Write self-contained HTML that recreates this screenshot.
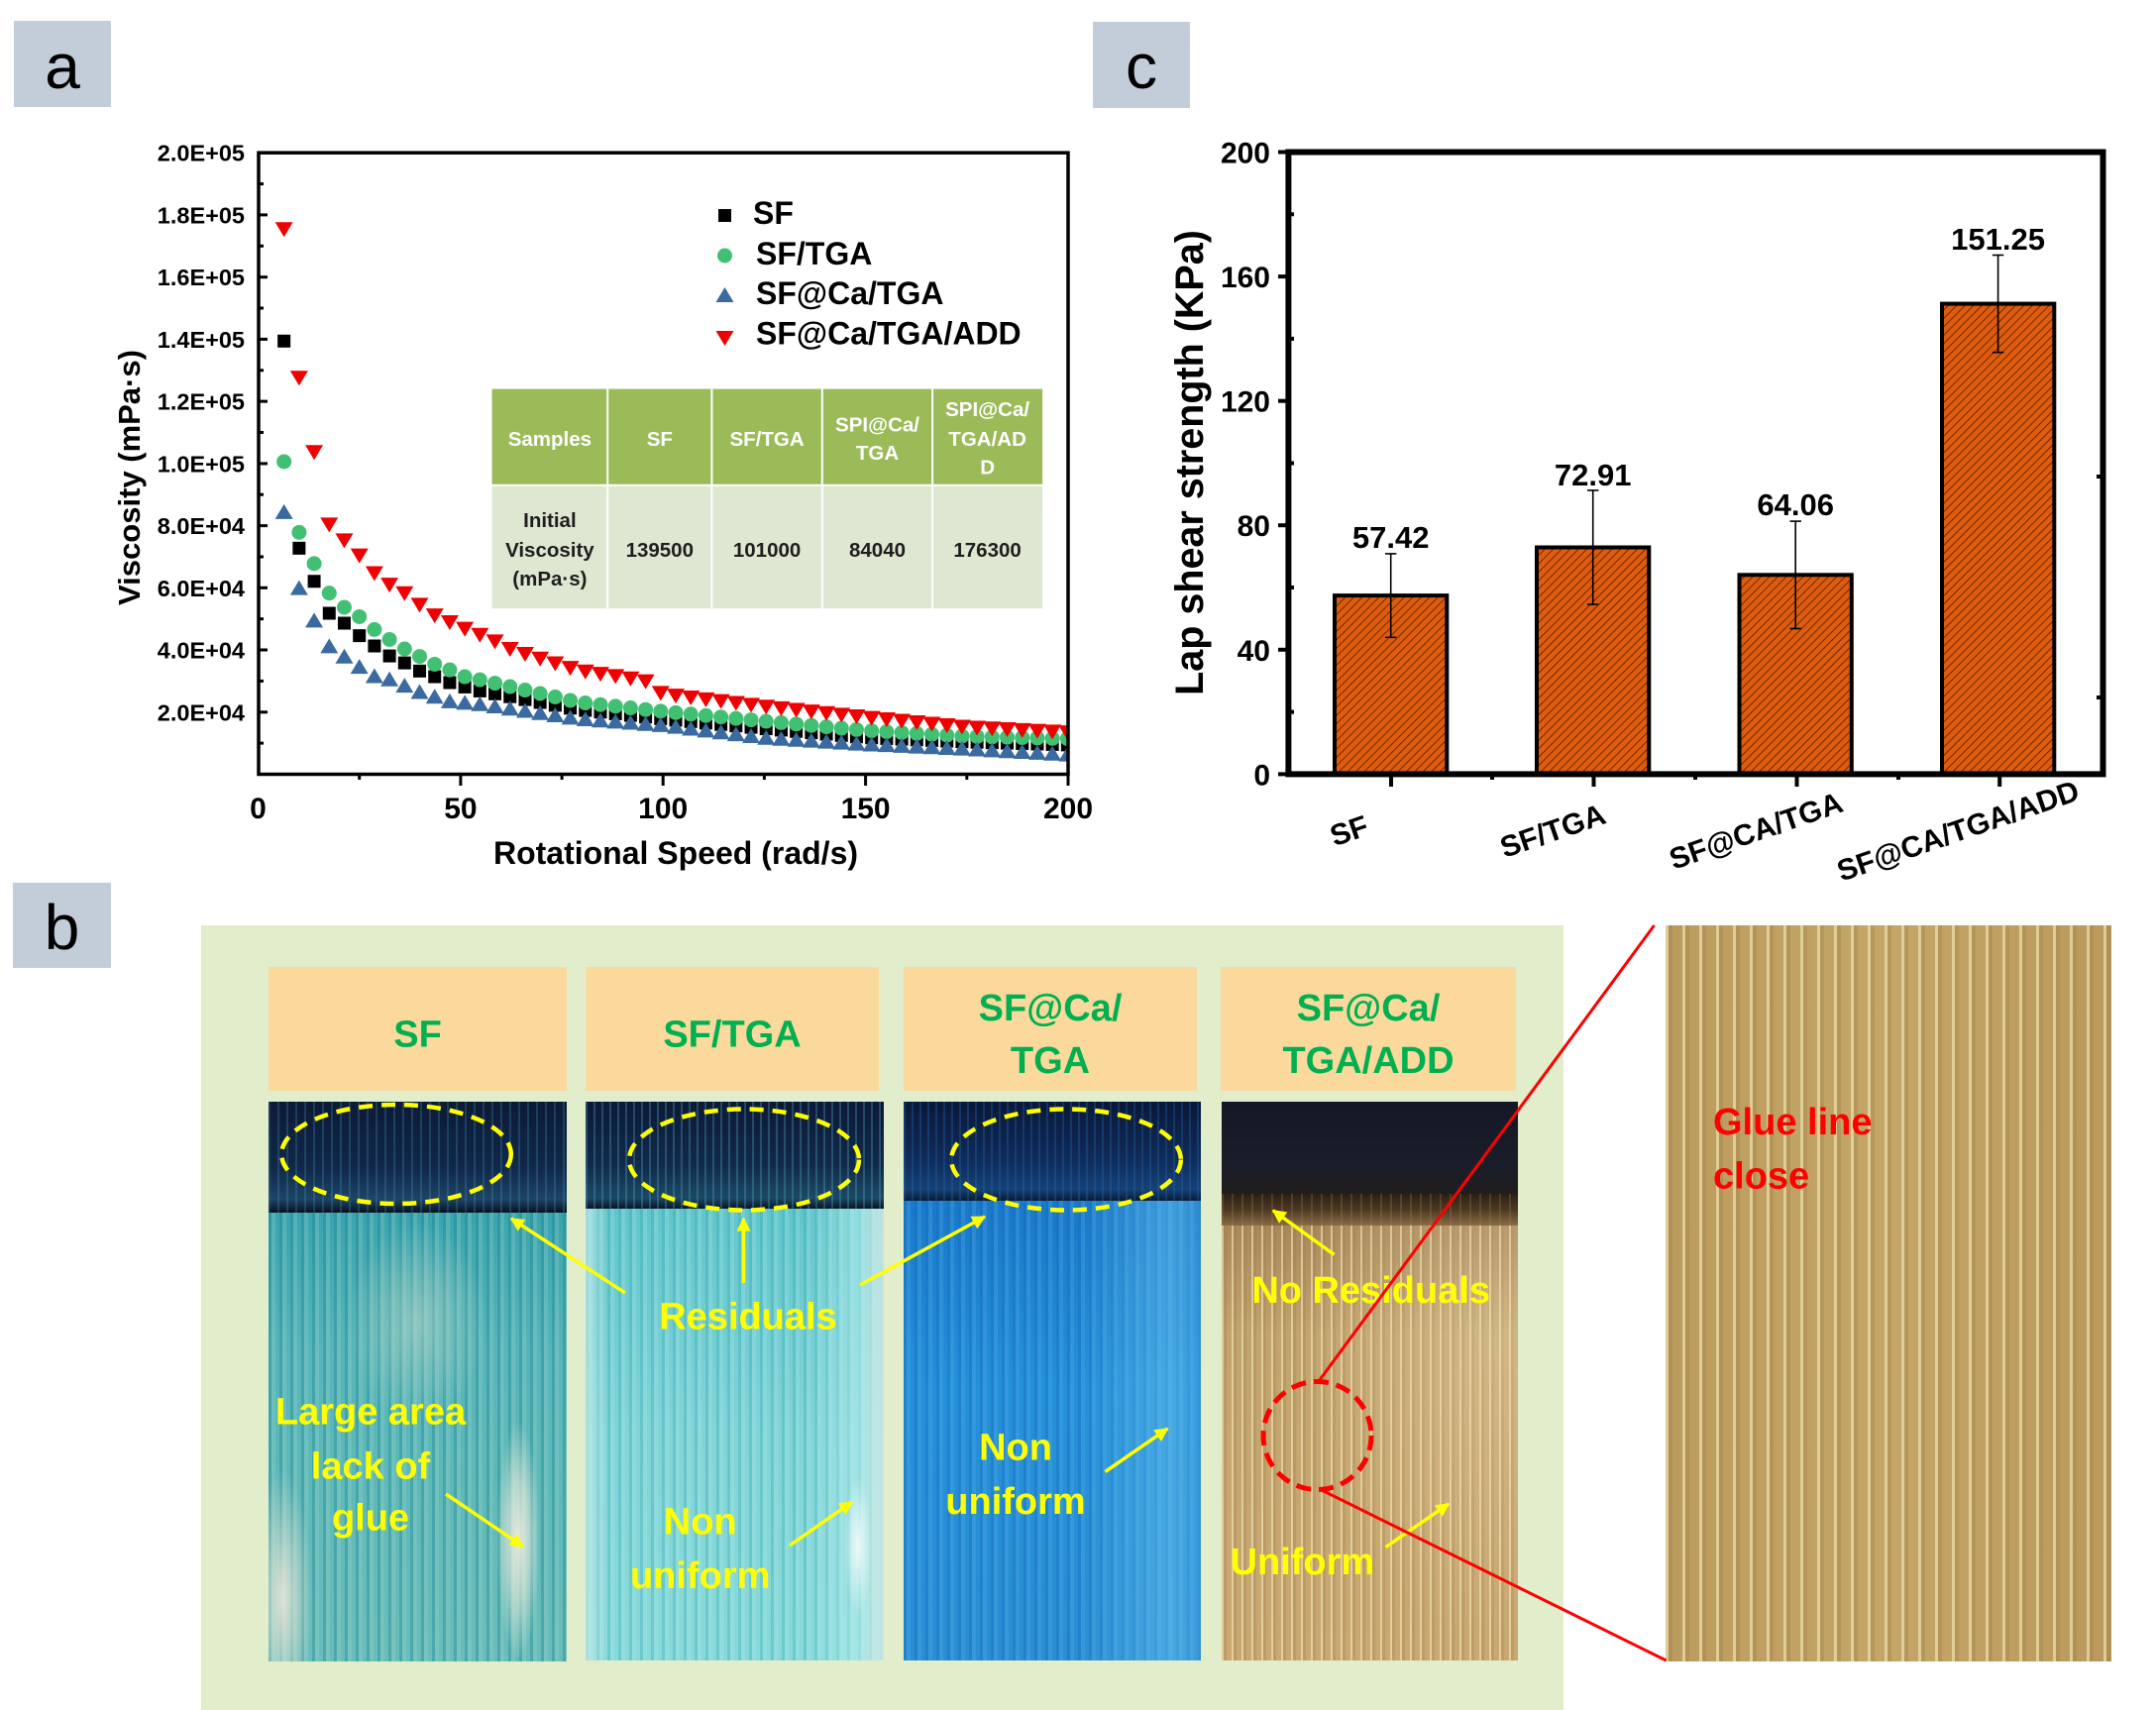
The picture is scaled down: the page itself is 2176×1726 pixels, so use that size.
<!DOCTYPE html>
<html><head><meta charset="utf-8">
<style>
html,body{margin:0;padding:0;width:2176px;height:1726px;overflow:hidden;background:#fff}
.a{position:absolute}
svg{position:absolute;left:0;top:0}
</style></head><body>
<div class="a" style="left:203px;top:934px;width:1375px;height:792px;background:#E2EDCB"></div>
<div class="a" style="left:271px;top:976px;width:301px;height:125px;background:#FBD99D"></div>
<div class="a" style="left:591px;top:976px;width:296px;height:125px;background:#FBD99D"></div>
<div class="a" style="left:912px;top:976px;width:296px;height:125px;background:#FBD99D"></div>
<div class="a" style="left:1232px;top:976px;width:298px;height:125px;background:#FBD99D"></div>

<div class="a" style="left:271px;top:1112px;width:301px;height:112px;background:repeating-linear-gradient(90deg,rgba(80,160,190,.25) 0 2px,rgba(0,0,0,0) 2px 9px),linear-gradient(180deg,#0c1a36 0%,#10284a 60%,#1d4466 88%,#08111f 100%)"></div>
<div class="a" style="left:271px;top:1224px;width:301px;height:453px;background:radial-gradient(ellipse 22px 120px at 252px 330px,rgba(235,235,220,.95) 0%,rgba(235,235,220,.6) 50%,rgba(235,235,220,0) 100%),radial-gradient(ellipse 30px 130px at 14px 390px,rgba(230,228,212,.95) 0%,rgba(230,228,212,0) 100%),radial-gradient(ellipse 70px 100px at 150px 110px,rgba(190,215,200,.55),rgba(190,215,200,0)),repeating-linear-gradient(90deg,rgba(20,130,145,.35) 0 3px,rgba(160,215,205,.25) 3px 7px,rgba(0,0,0,0) 7px 11px),linear-gradient(180deg,#3aa3ae 0%,#57b5b8 30%,#6abdb9 100%)"></div>

<div class="a" style="left:591px;top:1112px;width:301px;height:108px;background:repeating-linear-gradient(90deg,rgba(90,180,200,.3) 0 2px,rgba(0,0,0,0) 2px 8px),linear-gradient(180deg,#0c1936 0%,#112a4c 60%,#1c4a66 90%,#0a1424 100%)"></div>
<div class="a" style="left:591px;top:1220px;width:301px;height:456px;background:radial-gradient(ellipse 14px 70px at 275px 340px,rgba(245,250,250,.95),rgba(245,250,250,0)),linear-gradient(90deg,rgba(200,235,235,.7) 0%,rgba(200,235,235,0) 8%,rgba(0,0,0,0) 75%,rgba(190,240,240,.55) 92%,rgba(220,235,230,.8) 100%),repeating-linear-gradient(90deg,rgba(40,165,175,.3) 0 3px,rgba(170,235,235,.25) 3px 7px,rgba(0,0,0,0) 7px 11px),linear-gradient(180deg,#62c5ca 0%,#82d4d7 50%,#8ad9d9 100%)"></div>

<div class="a" style="left:912px;top:1112px;width:300px;height:100px;background:repeating-linear-gradient(90deg,rgba(40,110,180,.3) 0 2px,rgba(0,0,0,0) 2px 8px),linear-gradient(180deg,#0a1838 0%,#0f2c5a 60%,#154276 88%,#0a1a33 100%)"></div>
<div class="a" style="left:912px;top:1212px;width:300px;height:464px;background:linear-gradient(90deg,rgba(0,0,0,0) 60%,rgba(110,200,240,.45) 90%,rgba(90,180,230,.3) 100%),repeating-linear-gradient(90deg,rgba(20,100,190,.3) 0 3px,rgba(90,180,235,.25) 3px 7px,rgba(0,0,0,0) 7px 11px),linear-gradient(180deg,#1a78c8 0%,#2490d8 40%,#2a8ed2 100%)"></div>

<div class="a" style="left:1233px;top:1112px;width:299px;height:93px;background:linear-gradient(180deg,#141725 0%,#1a1d2a 70%,#201d1c 100%)"></div>
<div class="a" style="left:1233px;top:1205px;width:299px;height:32px;background:repeating-linear-gradient(90deg,rgba(150,120,80,.3) 0 2px,rgba(0,0,0,0) 2px 10px),linear-gradient(180deg,#2a2015 0%,#4c3822 50%,#8a6c45 100%)"></div>
<div class="a" style="left:1233px;top:1237px;width:299px;height:439px;background:radial-gradient(ellipse 200px 300px at 280px 120px,rgba(240,220,180,.35),rgba(240,220,180,0)),repeating-linear-gradient(90deg,rgba(245,230,185,.6) 0 2px,rgba(150,120,70,.25) 2px 5px,rgba(0,0,0,0) 5px 10px),linear-gradient(180deg,#a8885a 0%,#c2a46e 25%,#c9a971 100%)"></div>

<div class="a" style="left:1681px;top:934px;width:450px;height:743px;background:repeating-linear-gradient(90deg,rgba(235,220,168,.75) 0 3px,rgba(150,120,65,.3) 3px 7px,rgba(0,0,0,0) 7px 17px),linear-gradient(90deg,#bb9c5e 0%,#c4a668 50%,#ba9a5c 100%)"></div>

<svg width="2176" height="1726" viewBox="0 0 2176 1726" font-family="'Liberation Sans', Arial, sans-serif">
<defs>
<pattern id="hatch" patternUnits="userSpaceOnUse" width="6" height="6" patternTransform="rotate(45)">
<rect width="6" height="6" fill="#DF5C0E"/>
<line x1="0" y1="0" x2="0" y2="6" stroke="#4a1800" stroke-width="1.5"/>
</pattern>
<clipPath id="clipA"><rect x="261" y="154" width="817" height="628"/></clipPath>
<marker id="ay" viewBox="0 0 10 10" refX="9" refY="5" markerWidth="17" markerHeight="14" markerUnits="userSpaceOnUse" orient="auto"><path d="M0,0L10,5L0,10z" fill="#ff0"/></marker>
</defs>

<!-- panel labels -->
<rect x="14" y="21" width="98" height="87" fill="#C3CDD9"/>
<text x="63" y="89" font-size="64" text-anchor="middle">a</text>
<rect x="1103" y="22" width="98" height="87" fill="#C3CDD9"/>
<text x="1152" y="89" font-size="64" text-anchor="middle">c</text>
<rect x="13" y="891" width="99" height="86" fill="#C3CDD9"/>
<text x="62.5" y="958" font-size="64" text-anchor="middle">b</text>

<!-- ===== Panel a ===== -->
<g font-weight="bold">
<g stroke="#000" stroke-width="3">
<line x1="261" y1="216.9" x2="270" y2="216.9"/><line x1="261" y1="279.7" x2="270" y2="279.7"/>
<line x1="261" y1="342.4" x2="270" y2="342.4"/><line x1="261" y1="405.1" x2="270" y2="405.1"/>
<line x1="261" y1="467.9" x2="270" y2="467.9"/><line x1="261" y1="530.6" x2="270" y2="530.6"/>
<line x1="261" y1="593.3" x2="270" y2="593.3"/><line x1="261" y1="656" x2="270" y2="656"/>
<line x1="261" y1="718.8" x2="270" y2="718.8"/>
<line x1="261" y1="185.6" x2="266" y2="185.6"/><line x1="261" y1="248.3" x2="266" y2="248.3"/>
<line x1="261" y1="311" x2="266" y2="311"/><line x1="261" y1="373.8" x2="266" y2="373.8"/>
<line x1="261" y1="436.5" x2="266" y2="436.5"/><line x1="261" y1="499.2" x2="266" y2="499.2"/>
<line x1="261" y1="562" x2="266" y2="562"/><line x1="261" y1="624.7" x2="266" y2="624.7"/>
<line x1="261" y1="687.4" x2="266" y2="687.4"/><line x1="261" y1="750.1" x2="266" y2="750.1"/>
<line x1="464.9" y1="781.5" x2="464.9" y2="793"/><line x1="669.2" y1="781.5" x2="669.2" y2="793"/>
<line x1="873.6" y1="781.5" x2="873.6" y2="793"/><line x1="1078" y1="781.5" x2="1078" y2="793"/>
<line x1="362.7" y1="781.5" x2="362.7" y2="787"/><line x1="567.1" y1="781.5" x2="567.1" y2="787"/>
<line x1="771.4" y1="781.5" x2="771.4" y2="787"/><line x1="975.8" y1="781.5" x2="975.8" y2="787"/>
</g>
<g font-size="23.5" text-anchor="end">
<text x="247" y="162.7">2.0E+05</text><text x="247" y="225.4">1.8E+05</text>
<text x="247" y="288.2">1.6E+05</text><text x="247" y="350.9">1.4E+05</text>
<text x="247" y="413.6">1.2E+05</text><text x="247" y="476.4">1.0E+05</text>
<text x="247" y="539.1">8.0E+04</text><text x="247" y="601.8">6.0E+04</text>
<text x="247" y="664.5">4.0E+04</text><text x="247" y="727.3">2.0E+04</text>
</g>
<g font-size="30" text-anchor="middle">
<text x="260.5" y="826">0</text><text x="464.9" y="826">50</text>
<text x="669.2" y="826">100</text><text x="873.6" y="826">150</text>
<text x="1078" y="826">200</text>
</g>
<text x="682" y="872" font-size="32" text-anchor="middle">Rotational Speed (rad/s)</text>
<text transform="translate(141,482) rotate(-90)" font-size="31" text-anchor="middle">Viscosity (mPa·s)</text>

<!-- legend -->
<rect x="725" y="211" width="13" height="13" fill="#000"/>
<circle cx="731.5" cy="258" r="7.5" fill="#41C073"/>
<polygon points="731.5,290 740.5,305 722.5,305" fill="#3A6AA0"/>
<polygon points="722.5,334 740.5,334 731.5,349" fill="#F00000"/>
<g font-size="32">
<text x="760" y="226">SF</text>
<text x="763" y="267">SF/TGA</text>
<text x="763" y="307">SF@Ca/TGA</text>
<text x="763" y="347.5">SF@Ca/TGA/ADD</text>
</g>
</g>

<!-- table -->
<rect x="496.5" y="392.6" width="555.6" height="97.2" fill="#9BBB59"/>
<rect x="496.5" y="489.8" width="555.6" height="124.4" fill="#DEE7D1"/>
<g stroke="#fff" stroke-width="2">
<line x1="496.5" y1="489.8" x2="1052.1" y2="489.8"/>
<line x1="613.2" y1="392.6" x2="613.2" y2="614.2"/>
<line x1="718.4" y1="392.6" x2="718.4" y2="614.2"/>
<line x1="829.8" y1="392.6" x2="829.8" y2="614.2"/>
<line x1="941.1" y1="392.6" x2="941.1" y2="614.2"/>
</g>
<g font-size="20.5" font-weight="bold" text-anchor="middle" fill="#fff">
<text x="554.9" y="450">Samples</text>
<text x="665.8" y="450">SF</text>
<text x="774.1" y="450">SF/TGA</text>
<text x="885.5" y="435.5">SPI@Ca/</text><text x="885.5" y="464.2">TGA</text>
<text x="996.6" y="420.2">SPI@Ca/</text><text x="996.6" y="450">TGA/AD</text><text x="996.6" y="478.7">D</text>
</g>
<g font-size="20.5" font-weight="bold" text-anchor="middle" fill="#1e1e1e">
<text x="554.9" y="532">Initial</text>
<text x="554.9" y="561.8">Viscosity</text>
<text x="554.9" y="591.2">(mPa·s)</text>
<text x="665.8" y="561.8">139500</text>
<text x="774.1" y="561.8">101000</text>
<text x="885.5" y="561.8">84040</text>
<text x="996.6" y="561.8">176300</text>
</g>

<g id="pts" clip-path="url(#clipA)"></g>
<rect x="261" y="154.2" width="817" height="627.3" fill="none" stroke="#000" stroke-width="3.5"/>

<!-- ===== Panel c ===== -->
<g stroke="#000" stroke-width="4">
<rect x="1347" y="601.1" width="113.3" height="180.3" fill="url(#hatch)"/>
<rect x="1551" y="552.5" width="113.3" height="228.9" fill="url(#hatch)"/>
<rect x="1755.5" y="580.3" width="113.3" height="201.1" fill="url(#hatch)"/>
<rect x="1960" y="306.6" width="113.3" height="474.8" fill="url(#hatch)"/>
</g>
<g stroke="#000" stroke-width="1.6">
<line x1="1403.7" y1="558.9" x2="1403.7" y2="643.3"/><line x1="1398" y1="558.9" x2="1409.4" y2="558.9"/><line x1="1398" y1="643.3" x2="1409.4" y2="643.3"/>
<line x1="1607.7" y1="494.9" x2="1607.7" y2="610.1"/><line x1="1602" y1="494.9" x2="1613.4" y2="494.9"/><line x1="1602" y1="610.1" x2="1613.4" y2="610.1"/>
<line x1="1812.2" y1="526.1" x2="1812.2" y2="634.5"/><line x1="1806.5" y1="526.1" x2="1817.9" y2="526.1"/><line x1="1806.5" y1="634.5" x2="1817.9" y2="634.5"/>
<line x1="2016.6" y1="257.5" x2="2016.6" y2="355.7"/><line x1="2010.9" y1="257.5" x2="2022.3" y2="257.5"/><line x1="2010.9" y1="355.7" x2="2022.3" y2="355.7"/>
</g>
<rect x="1300.4" y="153.5" width="822.1" height="627.9" fill="none" stroke="#000" stroke-width="6"/>
<g stroke="#000" stroke-width="4">
<line x1="1290" y1="781.4" x2="1300" y2="781.4"/><line x1="1290" y1="655.8" x2="1300" y2="655.8"/>
<line x1="1290" y1="530.2" x2="1300" y2="530.2"/><line x1="1290" y1="404.7" x2="1300" y2="404.7"/>
<line x1="1290" y1="279.1" x2="1300" y2="279.1"/><line x1="1290" y1="153.5" x2="1300" y2="153.5"/>
<line x1="1300" y1="718.6" x2="1306" y2="718.6"/><line x1="1300" y1="593" x2="1306" y2="593"/>
<line x1="1300" y1="467.5" x2="1306" y2="467.5"/><line x1="1300" y1="341.9" x2="1306" y2="341.9"/>
<line x1="1300" y1="216.3" x2="1306" y2="216.3"/>
<line x1="2116" y1="481" x2="2122" y2="481"/><line x1="2116" y1="704" x2="2122" y2="704"/>
<line x1="1404" y1="781" x2="1404" y2="794"/><line x1="1608.5" y1="781" x2="1608.5" y2="794"/>
<line x1="1813.5" y1="781" x2="1813.5" y2="794"/><line x1="2018.2" y1="781" x2="2018.2" y2="794"/>
<line x1="1506" y1="781" x2="1506" y2="787"/><line x1="1711" y1="781" x2="1711" y2="787"/>
<line x1="1916" y1="781" x2="1916" y2="787"/>
</g>
<g font-weight="bold">
<g font-size="30" text-anchor="end">
<text x="1282" y="792.4">0</text><text x="1282" y="666.8">40</text>
<text x="1282" y="541.2">80</text><text x="1282" y="415.7">120</text>
<text x="1282" y="290.1">160</text><text x="1282" y="164.5">200</text>
</g>
<g font-size="31" text-anchor="middle">
<text x="1403.7" y="553">57.42</text>
<text x="1607.7" y="490">72.91</text>
<text x="1812.2" y="520">64.06</text>
<text x="2016.6" y="252">151.25</text>
</g>
<text transform="translate(1214,467) rotate(-90)" font-size="39.5" text-anchor="middle">Lap shear strength (KPa)</text>
<g font-size="30" text-anchor="middle">
<text transform="translate(1361.5,838) rotate(-19)" dy="0.36em">SF</text>
<text transform="translate(1567,838) rotate(-19)" dy="0.36em">SF/TGA</text>
<text transform="translate(1772,838) rotate(-19)" dy="0.36em">SF@CA/TGA</text>
<text transform="translate(1976,838) rotate(-19)" dy="0.36em">SF@CA/TGA/ADD</text>
</g>
</g>

<!-- ===== Panel b overlays ===== -->
<g font-weight="bold" font-size="38" fill="#00B050" text-anchor="middle">
<text x="421.5" y="1056.6">SF</text>
<text x="739" y="1056.6">SF/TGA</text>
<text x="1060" y="1030">SF@Ca/</text><text x="1060" y="1083">TGA</text>
<text x="1381" y="1030">SF@Ca/</text><text x="1381" y="1083">TGA/ADD</text>
</g>
<g fill="none" stroke="#FFFF00" stroke-width="4.5" stroke-dasharray="14 9">
<ellipse cx="400" cy="1165" rx="115.8" ry="50"/>
<ellipse cx="751" cy="1170.5" rx="116" ry="51"/>
<ellipse cx="1076" cy="1170.5" rx="115.8" ry="51"/>
</g>
<g stroke="#FFFF00" stroke-width="3.5" marker-end="url(#ay)">
<line x1="631" y1="1305" x2="516" y2="1230"/>
<line x1="750.5" y1="1295" x2="750.5" y2="1230"/>
<line x1="868" y1="1297" x2="994" y2="1228"/>
<line x1="450" y1="1508" x2="528" y2="1561"/>
<line x1="797" y1="1560" x2="860" y2="1516"/>
<line x1="1115.5" y1="1485.5" x2="1178.4" y2="1442"/>
<line x1="1346.6" y1="1266.4" x2="1284.9" y2="1221.8"/>
<line x1="1398.5" y1="1561.7" x2="1462.2" y2="1517.9"/>
</g>
<g font-weight="bold" font-size="38" fill="#FFFF00" text-anchor="middle">
<text x="755" y="1341.5">Residuals</text>
<text x="374" y="1437.7">Large area</text>
<text x="374" y="1492.7">lack of</text>
<text x="374" y="1544.3">glue</text>
<text x="706.7" y="1548.3">Non</text>
<text x="706.7" y="1603.1">uniform</text>
<text x="1025" y="1473.3">Non</text>
<text x="1025" y="1528">uniform</text>
<text x="1383.7" y="1315.1">No Residuals</text>
<text x="1314.4" y="1588.9">Uniform</text>
</g>
<g stroke="#FF0000" stroke-width="3" fill="none">
<line x1="1331.5" y1="1393.4" x2="1669.6" y2="934"/>
<line x1="1331.5" y1="1502.9" x2="1681.6" y2="1676"/>
<circle cx="1329.5" cy="1449" r="54.5" stroke-width="5" stroke-dasharray="15 8"/>
</g>
<g font-weight="bold" font-size="38" fill="#FF0000">
<text x="1729" y="1144.8">Glue line</text>
<text x="1729" y="1199.5">close</text>
</g>
</svg>

<script>
(function(){
var D=[
['#000000','sq',[[6.4,139.4],[10.1,72.8],[13.8,62.2],[17.6,51.7],[21.3,48.6],[25,44.6],[28.7,41.3],[32.4,38.1],[36.2,35.8],[39.9,33.2],[43.6,31.4],[47.3,29.5],[51,28.1],[54.8,26.8],[79,20.8],[100,17.8],[125,14.7],[150,11.8],[175,10.4],[201,9.4]]],
['#41C073','ci',[[6.4,100.6],[10.1,77.9],[13.8,67.9],[17.6,58.2],[21.3,53.7],[25,50.7],[28.7,46.6],[32.4,43.4],[36.2,40.3],[39.9,37.9],[43.6,35.4],[47.3,33.6],[51,31.4],[54.8,30.4],[79,23.2],[100,20.2],[125,17.1],[150,14.1],[175,12.2],[201,11.4]]],
['#3A6AA0','up',[[6.4,84.2],[10.1,59.8],[13.8,49.4],[17.6,40.9],[21.3,37.7],[25,34.4],[28.7,31.4],[32.4,30.4],[36.2,28.3],[39.9,26.3],[43.6,24.8],[47.3,23.3],[54.8,22.4],[79,17.7],[100,15.6],[125,11.6],[150,9.5],[175,8.0],[201,6.1]]],
['#F00000','dn',[[6.4,175.6],[10.1,127.9],[13.8,104.1],[17.6,80.3],[21.3,75.4],[25,70.6],[28.7,64.9],[32.4,61.2],[36.2,58.4],[39.9,54.7],[43.6,51.3],[47.3,49.1],[51,47],[54.8,45],[58.5,42.9],[62.2,40.5],[65.9,38.9],[79,33.6],[92,31],[96,30],[99.7,26],[125,22],[150,18.5],[175,15.3],[201,13.6]]]
];
function itp(a,x){
 if(x<=a[0][0])return a[0][1];
 for(var i=1;i<a.length;i++){ if(x<=a[i][0]){var t=(x-a[i-1][0])/(a[i][0]-a[i-1][0]);return a[i-1][1]+t*(a[i][1]-a[i-1][1]);} }
 return a[a.length-1][1];
}
var ns='http://www.w3.org/2000/svg',g=document.getElementById('pts');
D.forEach(function(s){
 for(var i=0;i<=52;i++){
  var x=6.4+i*3.72, v=itp(s[2],x);
  var px=260.5+x*4.0875, py=781.5-v*3.1365, e;
  if(s[1]=='sq'){e=document.createElementNS(ns,'rect');e.setAttribute('x',px-6.5);e.setAttribute('y',py-6.5);e.setAttribute('width',13);e.setAttribute('height',13);}
  else if(s[1]=='ci'){e=document.createElementNS(ns,'circle');e.setAttribute('cx',px);e.setAttribute('cy',py);e.setAttribute('r',7.5);}
  else if(s[1]=='up'){e=document.createElementNS(ns,'polygon');e.setAttribute('points',px+','+(py-8.5)+' '+(px+9)+','+(py+6.5)+' '+(px-9)+','+(py+6.5));}
  else {e=document.createElementNS(ns,'polygon');e.setAttribute('points',(px-9)+','+(py-6.5)+' '+(px+9)+','+(py-6.5)+' '+px+','+(py+8.5));}
  e.setAttribute('fill',s[0]);g.appendChild(e);
 }
});
})();
</script>
</body></html>
